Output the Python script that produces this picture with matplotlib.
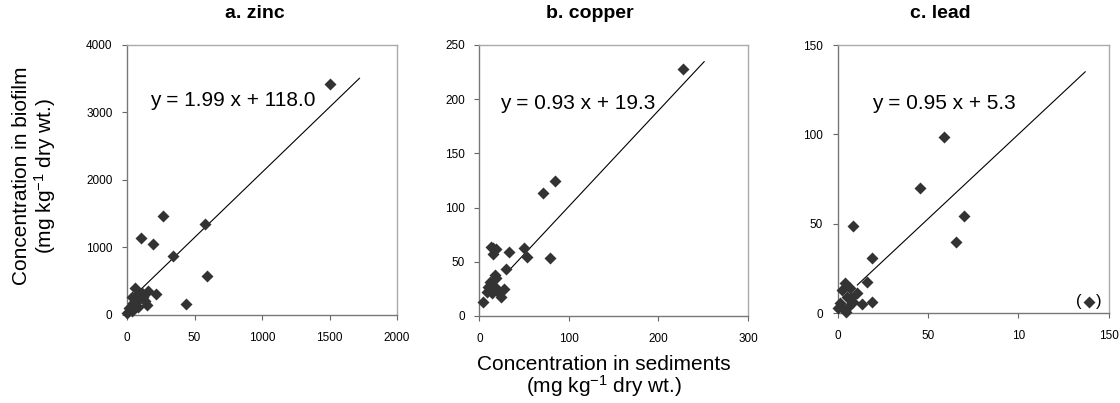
import matplotlib
matplotlib.use('Agg')
import matplotlib.pyplot as plt

plt.rcParams['font.family'] = ['Liberation Sans', 'DejaVu Sans']
plt.rcParams['mathtext.default'] = 'regular'

# Zinc: sediment vs biofilm (mg/kg)
zinc_sed = [1500, 268, 101, 190, 576, 342, 593, 434, 214, 157, 59,
            35, 72, 96, 133, 145, 47, 17, 84, 108, 3, 35, 67, 121]
zinc_bio = [3418, 1467, 1136, 1047, 1348, 874, 578, 163, 307, 356, 404,
            271, 296, 247, 212, 148, 173, 99, 123, 321, 35, 59, 198, 271]
zinc_line_x = [59, 1722]
zinc_line_y = [296, 3507]

# Copper
copper_sed = [227, 84.6, 71.5, 79, 50, 53.6, 33.5, 29.8, 15, 18.7, 12.7, 15.6,
              17.5, 18.7, 12, 10, 8.2, 27.6, 23.9, 22.3, 3.8, 17.5, 13.8]
copper_bio = [228, 124.8, 113.7, 53.2, 62.5, 54.7, 59.3, 43.1, 62.5, 61.8, 63.4, 57.2,
              37.8, 34.8, 31.6, 27, 22.4, 24.6, 17.8, 20.9, 13.2, 27, 20.9]
copper_line_x = [33.5, 251]
copper_line_y = [42.4, 234.6]

# Lead
lead_sed = [58.7, 45.7, 70.2, 65.5, 8.7, 18.9, 16.5, 18.9, 13.3,
            4.1, 2.2, 6.8, 10.9, 5.0, 8.7, 1.3, 3.1, 5.9, 4.6, 7.6, 0.4]
lead_bio = [98.7, 69.8, 54.3, 39.9, 48.7, 30.6, 17.5, 6.3, 4.9,
            16.6, 12.9, 13.8, 11.0, 9.1, 6.3, 5.4, 2.6, 3.5, 0.7, 8.3, 2.6]
lead_line_x = [10.9, 137]
lead_line_y = [15.7, 135]
# point shown in brackets (excluded from the fit)
lead_out_x = [139]
lead_out_y = [6.3]

titles = ['a. zinc', 'b. copper', 'c. lead']
equations = ['y = 1.99 x + 118.0', 'y = 0.93 x + 19.3', 'y = 0.95 x + 5.3']

zinc_xticks = [0, 500, 1000, 1500, 2000]
zinc_xlabels = ['0', '50', '1000', '1500', '2000']
zinc_yticks = [0, 1000, 2000, 3000, 4000]
copper_xticks = [0, 100, 200, 300]
copper_yticks = [0, 50, 100, 150, 200, 250]
lead_xticks = [0, 50, 100, 150]
lead_xlabels = ['0', '50', '10', '150']
lead_yticks = [0, 50, 100, 150]

MARKER_COL = '#333333'

fig = plt.figure(figsize=(11.2, 4.03), dpi=100)
ax_a = fig.add_axes([0.1134, 0.2184, 0.2411, 0.6700])
ax_b = fig.add_axes([0.4280, 0.2159, 0.2399, 0.6725])
ax_c = fig.add_axes([0.7479, 0.2233, 0.2420, 0.6650])

panels = [
    (ax_a, zinc_sed, zinc_bio, zinc_line_x, zinc_line_y, (0, 2000), (0, 4000),
     zinc_xticks, zinc_xlabels, zinc_yticks, (0.085, 0.796)),
    (ax_b, copper_sed, copper_bio, copper_line_x, copper_line_y, (0, 300), (0, 250),
     copper_xticks, [str(t) for t in copper_xticks], copper_yticks, (0.078, 0.785)),
    (ax_c, lead_sed, lead_bio, lead_line_x, lead_line_y, (0, 150), (0, 150),
     lead_xticks, lead_xlabels, lead_yticks, (0.125, 0.782)),
]

for i, (ax, xs, ys, lx, ly, xlim, ylim, xt, xtl, yt, eq_pos) in enumerate(panels):
    ax.plot(lx, ly, color='black', lw=0.8, zorder=2)
    ax.plot(xs, ys, 'D', color=MARKER_COL, ms=6.6, mec='none', clip_on=False, zorder=3)
    ax.set_xlim(*xlim)
    ax.set_ylim(*ylim)
    ax.set_xticks(xt)
    ax.set_xticklabels(xtl)
    ax.set_yticks(yt)
    ax.tick_params(direction='out', length=3.5, width=0.8, colors='#666666',
                   labelcolor='black', labelsize=8.5, pad=7)
    ax.tick_params(axis='x', pad=9)
    for side in ['left', 'bottom']:
        ax.spines[side].set_color('#777777')
    for side in ['top', 'right']:
        ax.spines[side].set_color('#aaaaaa')
    for sp in ax.spines.values():
        sp.set_linewidth(1.0)
    ax.text(eq_pos[0], eq_pos[1], equations[i], transform=ax.transAxes,
            fontsize=15, ha='left', va='center')

# bracketed lead point
ax_c.plot(lead_out_x, lead_out_y, 'D', color=MARKER_COL, ms=6.6, mec='none', clip_on=False)
ax_c.annotate('(', xy=(lead_out_x[0], lead_out_y[0]), xytext=(-7, 0.5),
              textcoords='offset points', ha='center', va='center', fontsize=12)
ax_c.annotate(')', xy=(lead_out_x[0], lead_out_y[0]), xytext=(7, 0.5),
              textcoords='offset points', ha='center', va='center', fontsize=12)

# titles sit a bit left of the axes centres in the original
title_x = [255, 590, 940]
for t, tx in zip(titles, title_x):
    fig.text(tx / 1120, 1 - 13 / 403, t, fontsize=14, fontweight='bold',
             ha='center', va='center')

fig.text(35 / 1120, 1 - 176 / 403,
         'Concentration in biofilm\n(mg kg$^{-1}$ dry wt.)',
         rotation=90, fontsize=15, ha='center', va='center', linespacing=1.05)
fig.text(604 / 1120, 1 - 377 / 403,
         'Concentration in sediments\n(mg kg$^{-1}$ dry wt.)',
         fontsize=15, ha='center', va='center', linespacing=1.0)

fig.savefig('out.png', dpi=100)
